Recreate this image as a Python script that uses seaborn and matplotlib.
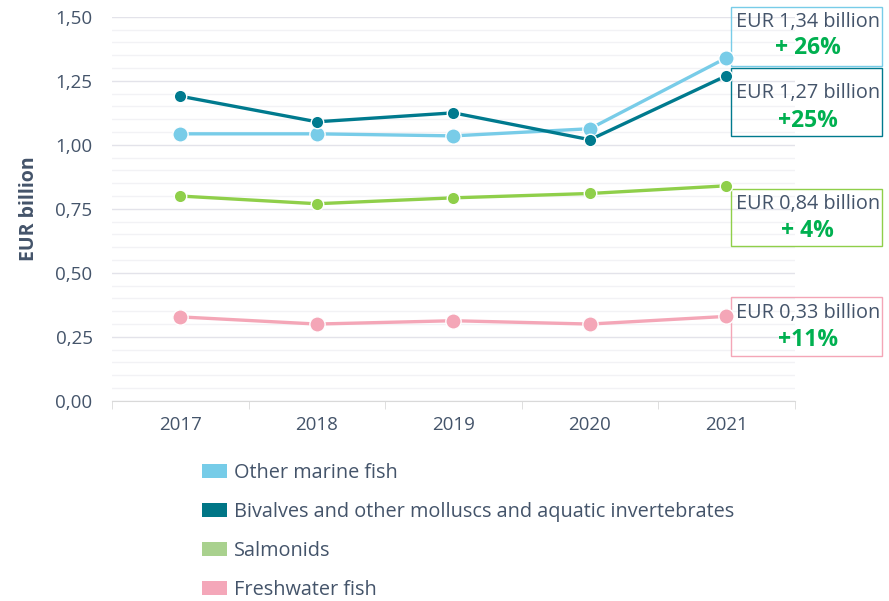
#!/usr/bin/env python3
"""Aquaculture value by species group, 2017-2021"""

import pandas as pd
import matplotlib.pyplot as plt
from matplotlib.patches import Patch, Rectangle
from matplotlib.ticker import FuncFormatter, MultipleLocator
import seaborn as sns

years = ['2017', '2018', '2019', '2020', '2021']
series = ['Other marine fish',
          'Bivalves and other molluscs and aquatic invertebrates',
          'Salmonids',
          'Freshwater fish']
marine = [1.043, 1.043, 1.035, 1.063, 1.34]
bivalves = [1.19, 1.09, 1.125, 1.02, 1.27]
salmonids = [0.80, 0.77, 0.793, 0.81, 0.84]
freshwater = [0.328, 0.30, 0.313, 0.30, 0.33]
box_lines = ['EUR 1,34 billion', 'EUR 1,27 billion', 'EUR 0,84 billion', 'EUR 0,33 billion']
box_pct = ['+ 26%', '+25%', '+ 4%', '+11%']

line_colors = ['#78cce8', '#007a8e', '#8fcf4a', '#f4a6b7']
legend_colors = ['#76cce8', '#007686', '#a9d18e', '#f4a7b9']
marker_sizes = [11, 9, 9, 11]
TEXT = '#44546a'
GREEN = '#00b050'

# --------------------------------------------------
df = pd.DataFrame({'year': years * 4,
                   'value': marine + bivalves + salmonids + freshwater,
                   'group': [s for s in series for _ in years]})
df['pos'] = df['year'].map({y: i for i, y in enumerate(years)})

plt.rcParams['font.family'] = ['Open Sans', 'DejaVu Sans']
fig = plt.figure(figsize=(8.89, 6.01), dpi=100)
ax = fig.add_axes([0.126, 0.333, 0.768, 0.639])

for i, name in enumerate(series):
    sub = df[df['group'] == name]
    sns.lineplot(data=sub, x='pos', y='value', ax=ax, color=line_colors[i],
                 linewidth=2.4, marker='o', markersize=marker_sizes[i],
                 markeredgecolor='white', markeredgewidth=1, zorder=3 + i,
                 legend=False)

ax.set_xlim(-0.5, 4.5)
ax.set_ylim(0, 1.5)
ax.set_xticks(range(len(years)))
ax.set_xticklabels(years)
ax.set_xticks([i - 0.5 for i in range(len(years) + 1)], minor=True)
ax.tick_params(axis='x', which='major', length=0, pad=11, labelsize=13.5, labelcolor=TEXT)
ax.tick_params(axis='x', which='minor', length=6, color='#d9d9d9')
ax.yaxis.set_major_locator(MultipleLocator(0.25))
ax.yaxis.set_minor_locator(MultipleLocator(0.05))
ax.yaxis.set_major_formatter(FuncFormatter(lambda v, p: f'{v:.2f}'.replace('.', ',')))
ax.tick_params(axis='y', which='both', length=0, pad=14, labelsize=13.5, labelcolor=TEXT)
ax.grid(axis='y', which='major', color='#e3e3ea', linewidth=1)
ax.grid(axis='y', which='minor', color='#f2f2f5', linewidth=1)
ax.set_axisbelow(True)
for side in ['left', 'right', 'top']:
    ax.spines[side].set_visible(False)
ax.spines['bottom'].set_color('#d9d9d9')
ax.set_xlabel('')
ax.set_ylabel('EUR billion', fontsize=14, fontweight='bold', color=TEXT, labelpad=12)

# value boxes at the right: (bottom, top, first line y, second line y)
boxes = [(1.309, 1.539, 1.480, 1.379),
         (1.035, 1.300, 1.203, 1.094),
         (0.605, 0.828, 0.770, 0.664),
         (0.176, 0.406, 0.344, 0.238)]
for i, (lo, hi, y1, y2) in enumerate(boxes):
    ax.add_patch(Rectangle((4.03, lo), 1.11, hi - lo, fill=False, edgecolor=line_colors[i],
                           linewidth=1, clip_on=False, zorder=2))
    mid = 4.03 + 0.565
    ax.text(mid, y1, box_lines[i], ha='center', va='center',
            fontsize=14.3, color=TEXT, clip_on=False)
    ax.text(mid, y2, box_pct[i], ha='center', va='center',
            fontsize=16.5, fontweight='bold', color=GREEN, clip_on=False)

handles = [Patch(facecolor=c, edgecolor='none') for c in legend_colors]
fig.legend(handles, series, loc='upper left', bbox_to_anchor=(0.207, 0.26),
           frameon=False, fontsize=14.3, labelcolor=TEXT, handlelength=1.25,
           handleheight=0.7, handletextpad=0.35, labelspacing=0.96)

fig.savefig('out.png', dpi=100)
